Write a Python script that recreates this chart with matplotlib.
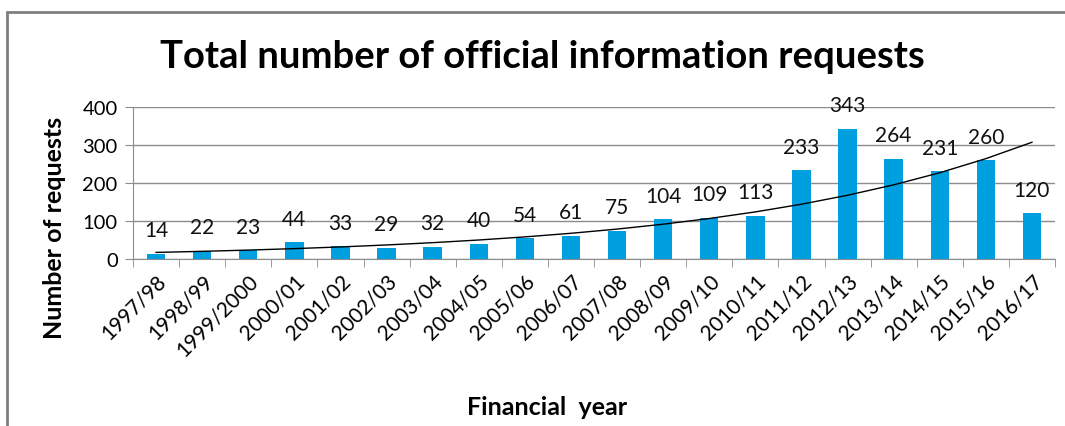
import numpy as np
import matplotlib.pyplot as plt
from matplotlib.patches import Rectangle

plt.rcParams['font.family'] = ['Lato', 'DejaVu Sans']

years = ["1997/98", "1998/99", "1999/2000", "2000/01", "2001/02", "2002/03",
         "2003/04", "2004/05", "2005/06", "2006/07", "2007/08", "2008/09",
         "2009/10", "2010/11", "2011/12", "2012/13", "2013/14", "2014/15",
         "2015/16", "2016/17"]
requests = [14, 22, 23, 44, 33, 29, 32, 40, 54, 61, 75, 104, 109, 113,
            233, 343, 264, 231, 260, 120]

x = np.arange(len(years))
y = np.array(requests)

# exponential trendline, like excel does it
b, a = np.polyfit(x + 1, np.log(y), 1)
trend = np.exp(a) * np.exp(b * (x + 1))

fig = plt.figure(figsize=(10.65, 4.27), dpi=100)
ax = fig.add_axes([133 / 1065, 1 - 260 / 427, 922 / 1065, 152 / 427])

ax.bar(x, y, width=0.4, color="#009fe0", zorder=3)
ax.plot(x, trend, color="black", lw=1.0, zorder=4)

for xi, v in zip(x, y):
    ax.annotate(str(v), (xi, v), xytext=(0, 17), textcoords="offset points",
                ha="center", va="center", fontsize=15, color="#111111")

ax.set_xlim(-0.5, len(years) - 0.5)
ax.set_ylim(0, 400)
ax.set_yticks([0, 100, 200, 300, 400])
ax.grid(axis="y", color="#8c8c8c", lw=1, zorder=0)
ax.set_axisbelow(True)

ax.set_xticks(x)
ax.set_xticklabels(years, rotation=45, ha="right", rotation_mode="anchor",
                   fontsize=15)
ax.tick_params(axis="x", length=0, pad=8)
ax.set_xticks(np.arange(-0.5, len(years)), minor=True)
ax.tick_params(axis="x", which="minor", length=6, color="#8c8c8c")
ax.tick_params(axis="y", length=6, color="#8c8c8c", labelsize=14.5, pad=5)

for s in ["top", "right"]:
    ax.spines[s].set_visible(False)
ax.spines["left"].set_color("#8c8c8c")
ax.spines["bottom"].set_color("#8c8c8c")

fig.text(55 / 1065, 1 - 228 / 427, "Number of requests", fontsize=18,
         fontweight="bold", rotation=90, ha="center", va="center")
fig.text(547 / 1065, 1 - 408 / 427, "Financial  year", fontsize=18,
         fontweight="bold", ha="center", va="center")
fig.text(542 / 1065, 1 - 57 / 427, "Total number of official information requests",
         fontsize=27.5, fontweight="bold", ha="center", va="center")

fig.add_artist(Rectangle((7 / 1065, -0.1), 1.1, 1.1 - 13 / 427,
                         transform=fig.transFigure, fill=False,
                         edgecolor="#808080", lw=2))

fig.savefig("out.png", dpi=100)
